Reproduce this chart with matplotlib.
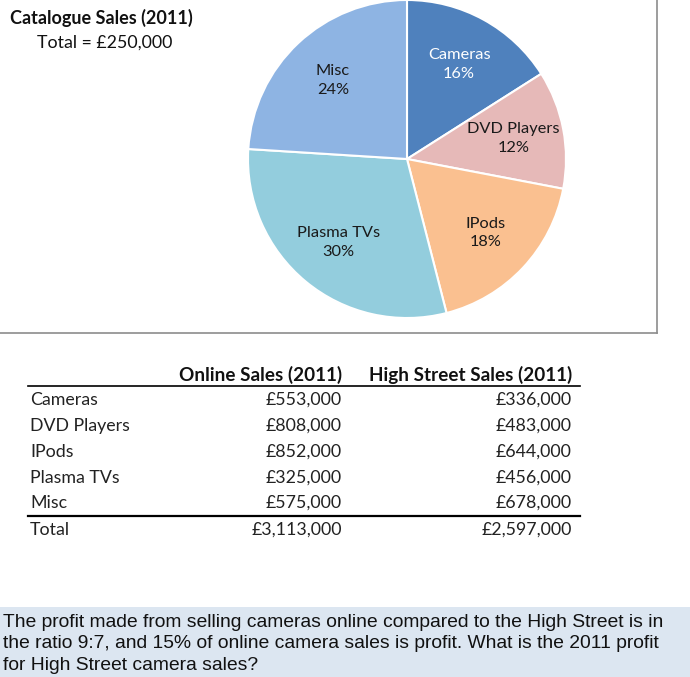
import matplotlib
matplotlib.use("Agg")
import matplotlib.pyplot as plt

# -------------------------------
# Data
# -------------------------------
pie_labels = ["Cameras", "DVD Players", "IPods", "Plasma TVs", "Misc"]
pie_share = [16, 12, 18, 30, 24]
pie_colors = ["#4F81BD", "#E6B9B8", "#FAC090", "#93CDDD", "#8EB4E3"]

products = ["Cameras", "DVD Players", "IPods", "Plasma TVs", "Misc"]
online_sales = [553000, 808000, 852000, 325000, 575000]
high_street_sales = [336000, 483000, 644000, 456000, 678000]
online_total = 3113000
high_street_total = 2597000

question = ("The profit made from selling cameras online compared to the High Street is in\n"
            "the ratio 9:7, and 15% of online camera sales is profit. What is the 2011 profit\n"
            "for High Street camera sales?")

W, H = 690, 677
FONT = ["Lato", "DejaVu Sans"]


def money(v):
    return "\u00a3{:,}".format(v)


fig = plt.figure(figsize=(W / 100, H / 100), dpi=100)

# overlay axes in pixel coords (y down)
ov = fig.add_axes([0, 0, 1, 1])
ov.set_xlim(0, W)
ov.set_ylim(H, 0)
ov.axis("off")

# chart border
ov.plot([657, 657], [0, 333], color="#8c8c8c", lw=1.2)
ov.plot([0, 657], [333, 333], color="#8c8c8c", lw=1.2)

ov.text(10, 18, "Catalogue Sales (2011)", fontsize=13, fontweight="bold",
        family=FONT, va="center", ha="left", color="#111111")
ov.text(37, 43, "Total = \u00a3250,000", fontsize=12.8, family=FONT,
        va="center", ha="left", color="#111111")

# -------------------------------
# Pie
# -------------------------------
cx, cy, r = 407, 159, 159
pax = fig.add_axes([(cx - r) / W, (H - cy - r) / H, 2 * r / W, 2 * r / H])
wedges, texts, autotexts = pax.pie(
    pie_share, colors=pie_colors, startangle=90, counterclock=False,
    autopct="%d%%", pctdistance=0.68,
    wedgeprops=dict(edgecolor="white", linewidth=1.5))
for lab, t in zip(pie_labels, autotexts):
    t.set_text(lab + "\n" + t.get_text())
    t.set_fontsize(11.8)
    t.set_family(FONT)
    t.set_linespacing(1.45)
    t.set_color("white" if lab == "Cameras" else "#1a1a1a")
pax.set_xlim(-1, 1)
pax.set_ylim(-1, 1)

# -------------------------------
# Table
# -------------------------------
col1_x, col2_x = 342, 572
FS = 12.8
ov.text(col1_x, 375, "Online Sales (2011)", ha="right", va="center",
        fontsize=13.6, fontweight="bold", family=FONT, color="#111111")
ov.text(col2_x, 375, "High Street Sales (2011)", ha="right", va="center",
        fontsize=13.6, fontweight="bold", family=FONT, color="#111111")
ov.plot([28, 580], [386, 386], color="black", lw=1.2)

row_y = [400, 426, 452, 478, 503]
for name, on, hs, y in zip(products, online_sales, high_street_sales, row_y):
    ov.text(30, y, name, ha="left", va="center", fontsize=FS, family=FONT, color="#222222")
    ov.text(col1_x, y, money(on), ha="right", va="center", fontsize=FS, family=FONT, color="#222222")
    ov.text(col2_x, y, money(hs), ha="right", va="center", fontsize=FS, family=FONT, color="#222222")
ov.plot([28, 580], [516, 516], color="black", lw=1.6)
ov.text(30, 530, "Total", ha="left", va="center", fontsize=FS, family=FONT, color="#222222")
ov.text(col1_x, 530, money(online_total), ha="right", va="center", fontsize=FS, family=FONT, color="#222222")
ov.text(col2_x, 530, money(high_street_total), ha="right", va="center", fontsize=FS, family=FONT, color="#222222")

# -------------------------------
# Question box
# -------------------------------
ov.add_patch(plt.Rectangle((0, 607), W, H - 607, color="#DCE6F1", lw=0))
ov.text(3, 644, question, ha="left", va="center", fontsize=13.9,
        family="Liberation Sans", linespacing=1.32, color="#111111")

fig.savefig("out.png", dpi=100)
